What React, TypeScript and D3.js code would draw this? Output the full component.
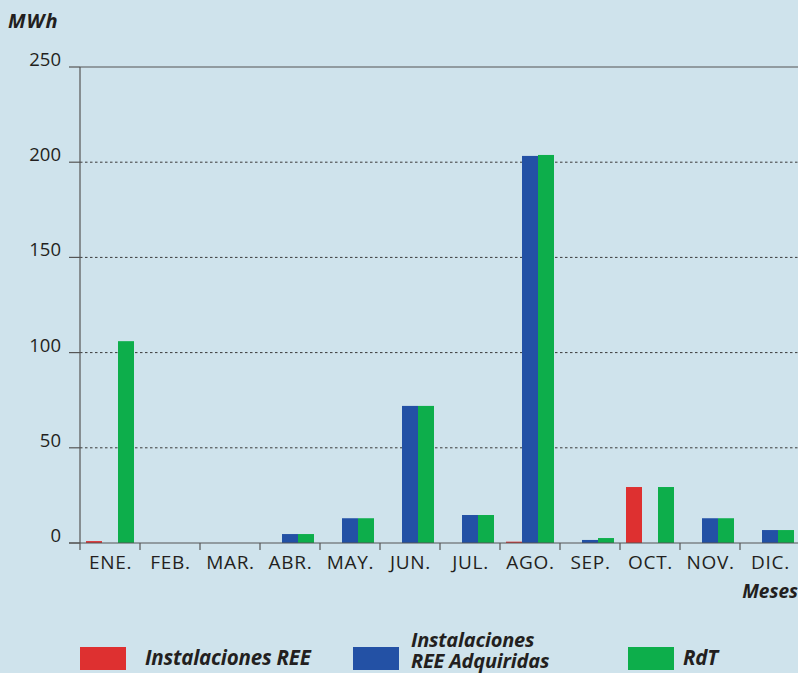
import React from "react";
import * as d3 from "d3";

const months = ["ENE.", "FEB.", "MAR.", "ABR.", "MAY.", "JUN.", "JUL.", "AGO.", "SEP.", "OCT.", "NOV.", "DIC."];
const instalacionesREE = [1, 0, 0, 0, 0, 0, 0, 0.7, 0, 29.4, 0, 0];
const reeAdquiridas = [0, 0, 0, 4.7, 13, 72, 14.7, 203.3, 1.6, 0, 13, 6.8];
const rdt = [106, 0, 0, 4.7, 13, 72, 14.7, 203.8, 2.6, 29.4, 13, 6.8];
const yTicks = [0, 50, 100, 150, 200, 250];
const seriesNames = ["Instalaciones REE", "Instalaciones REE Adquiridas", "RdT"];
const colors = ["#de3030", "#2351a5", "#0dae4b"];

const W = 798;
const H = 673;
const left = 80;
const right = 800;
const top = 67;
const bottom = 543;

export default function App() {
  const x = d3.scaleBand<string>().domain(months).range([left, right]);
  const y = d3.scaleLinear().domain([0, 250]).range([bottom, top]);
  const inner = d3.scaleBand<number>().domain([0, 1, 2]).range([6, 54]).padding(0);
  const series = [instalacionesREE, reeAdquiridas, rdt];
  const font = "'Open Sans', Lato, sans-serif";
  const textColor = "#231f20";
  const axisColor = "#555555";
  const legendStyle = { fontSize: 20.5, fontWeight: "bold" as const, fontStyle: "italic" as const, fill: textColor, letterSpacing: -0.2 };

  return (
    <svg width={W} height={H} style={{ position: "absolute", left: 0, top: 0, background: "#cfe3ec" }} fontFamily={font}>
      <rect x={0} y={0} width={W} height={H} fill="#cfe3ec" />
      {yTicks.filter((t) => t > 0 && t < 250).map((t) => (
        <line key={t} x1={left} x2={W} y1={y(t)} y2={y(t)} stroke="#3a3a3a" strokeWidth={1} strokeDasharray="2.5,2.5" />
      ))}
      <line x1={left} x2={W} y1={y(250)} y2={y(250)} stroke={axisColor} strokeWidth={1.2} />
      {yTicks.map((t) => (
        <g key={t}>
          <line x1={69} x2={left} y1={y(t)} y2={y(t)} stroke={axisColor} strokeWidth={1.2} />
          <text x={61} y={y(t) - 1} textAnchor="end" fontSize={18.5} fill={textColor}>{t}</text>
        </g>
      ))}
      {months.map((m, i) => (
        <g key={m}>
          {series.map((s, k) =>
            s[i] > 0 ? (
              <rect key={k} x={(x(m) as number) + (inner(k) as number)} width={inner.bandwidth()} y={y(s[i])} height={bottom - y(s[i])} fill={colors[k]} />
            ) : null
          )}
        </g>
      ))}
      <line x1={left} x2={left} y1={top} y2={550} stroke={axisColor} strokeWidth={1.2} />
      <line x1={69} x2={W} y1={bottom} y2={bottom} stroke={axisColor} strokeWidth={1.2} />
      {months.slice(1).map((m) => (
        <line key={m} x1={x(m) as number} x2={x(m) as number} y1={bottom} y2={550} stroke={axisColor} strokeWidth={1.2} />
      ))}
      {months.map((m) => (
        <text key={m} x={(x(m) as number) + x.bandwidth() / 2 + 0.5} y={569} textAnchor="middle" fontSize={19} letterSpacing={0.7} fill={textColor}>{m}</text>
      ))}
      <text x={8} y={28} fontSize={20} letterSpacing={1} fontWeight="bold" fontStyle="italic" fill={textColor}>MWh</text>
      <text x={798} y={598} textAnchor="end" fontSize={19} fontWeight="bold" fontStyle="italic" fill={textColor}>Meses</text>
      <rect x={80} y={647} width={46} height={23} fill={colors[0]} />
      <text x={145} y={665} {...legendStyle}>{seriesNames[0]}</text>
      <rect x={353} y={647} width={46} height={23} fill={colors[1]} />
      <text x={411} y={647} {...legendStyle} fontSize={20}>
        <tspan x={411} y={647}>Instalaciones</tspan>
        <tspan x={411} y={668}>REE Adquiridas</tspan>
      </text>
      <rect x={628} y={647} width={46} height={23} fill={colors[2]} />
      <text x={683} y={665} {...legendStyle}>{seriesNames[2]}</text>
    </svg>
  );
}
